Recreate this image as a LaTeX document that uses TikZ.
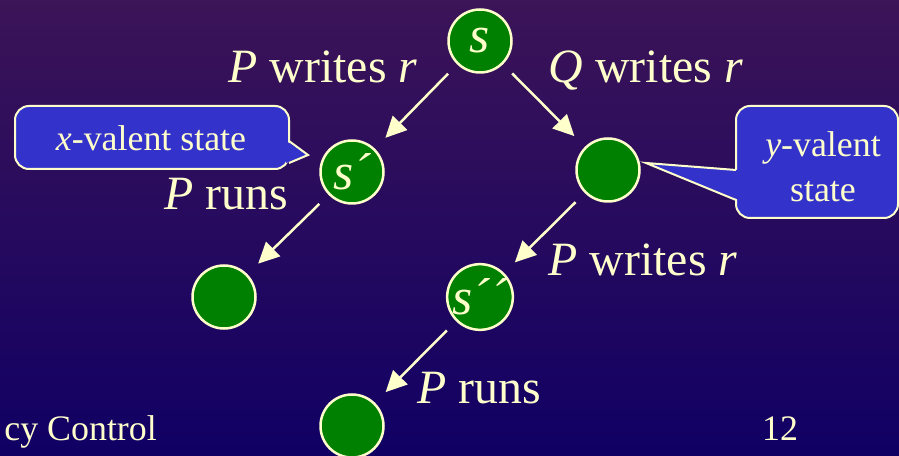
\documentclass[tikz,border=0pt]{standalone}
\usepackage{fontspec}
\setmainfont{Liberation Serif}[
  UprightFont={Liberation Serif},
  ItalicFont={Liberation Serif Italic},
  BoldFont={Liberation Serif Bold}]
\usetikzlibrary{arrows.meta}
\definecolor{bgtop}{RGB}{60,20,88}
\definecolor{bgbottom}{RGB}{16,0,100}
\definecolor{cream}{RGB}{255,255,204}
\definecolor{stategreen}{RGB}{0,128,0}
\definecolor{calloutblue}{RGB}{51,51,204}
\begin{document}
\begin{tikzpicture}[x=1bp,y=-1bp,
  state/.style={circle, draw=cream, fill=stategreen, line width=2.5bp,
    minimum size=63bp, inner sep=0pt, text=cream,
    font=\fontsize{52}{52}\selectfont\itshape},
  move/.style={draw=cream, line width=2.5bp,
    -{Triangle[length=21bp,width=20bp]}, shorten <=13bp, shorten >=15bp},
  lbl/.style={text=cream, font=\fontsize{48}{56}\selectfont, anchor=base, inner sep=0pt},
  bubble/.style={fill=calloutblue, draw=cream, line width=2bp},
  bubbleedge/.style={draw=cream, line width=2bp},
  note/.style={text=cream, font=\fontsize{36}{45}\selectfont, align=center, inner sep=0pt},
  footer/.style={text=cream, font=\fontsize{36}{44}\selectfont, inner sep=0pt}]

% background
\shade[top color=bgtop, bottom color=bgbottom] (0,0) rectangle (899,456);
\useasboundingbox (0,0) rectangle (899,456);

% callout bubbles
\filldraw[bubble, rounded corners=14bp] (15,106) rectangle (289,169);
\fill[calloutblue] (286,141) -- (308,155) -- (286,163) -- cycle;
\draw[bubbleedge] (289,141) -- (308,155) -- (289,163);
\node[note] (xv) at (151,138) {\textit{x}-valent state};

\filldraw[bubble, rounded corners=14bp] (736,106) rectangle (898,218);
\fill[calloutblue] (739,170) -- (646,163) -- (739,200) -- cycle;
\draw[bubbleedge] (736,170) -- (646,163) -- (736,200);
\node[note] (yv) at (823,167) {\textit{y}-valent\\state};

% states
\node[state] (s)  at (480,41)  {s};
\node[state] (s1) at (352,172) {s´};
\node[state] (q)  at (608,170) {};
\node[state] (pl) at (224,297) {};
\node[state] (s2) at (480,297) {s´´};
\node[state] (pb) at (352,426) {};

% transitions
\draw[move] (s)  -- (s1);
\draw[move] (s)  -- (q);
\draw[move] (s1) -- (pl);
\draw[move] (q)  -- (s2);
\draw[move] (s2) -- (pb);

% transition labels
\node[lbl] (l1) at (323,83)  {\textit{P} writes \textit{r}};
\node[lbl] (l2) at (646,83)  {\textit{Q} writes \textit{r}};
\node[lbl] (l3) at (226,210) {\textit{P} runs};
\node[lbl] (l4) at (643,276) {\textit{P} writes \textit{r}};
\node[lbl] (l5) at (479,403) {\textit{P} runs};

% footer
\node[footer, anchor=base east] (ft) at (157,440) {cy Control};
\node[footer, anchor=base] (pg) at (780,440) {12};
\end{tikzpicture}
\end{document}
